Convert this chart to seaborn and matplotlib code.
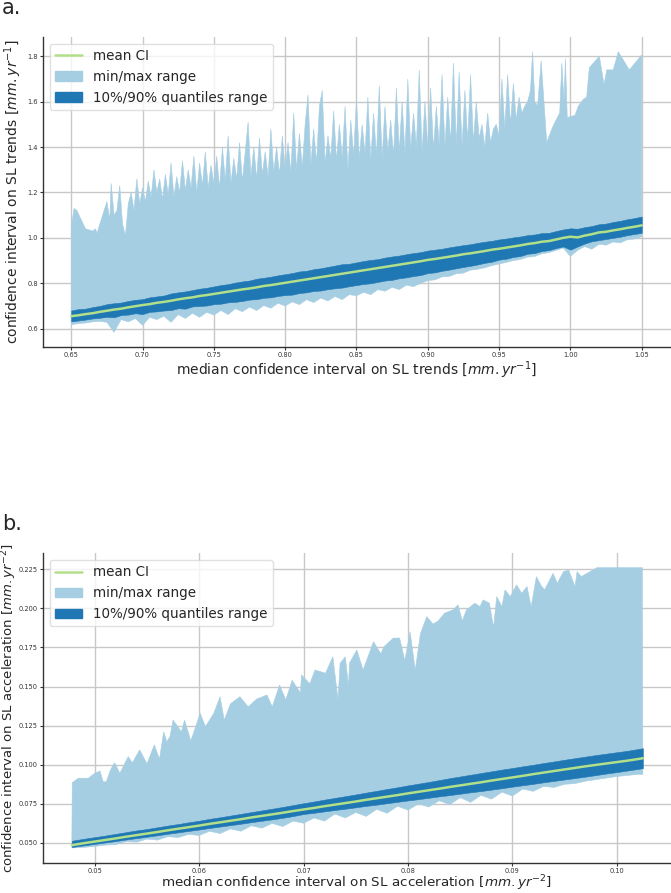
import numpy as np
import pandas as pd
import matplotlib
matplotlib.use("Agg")
import matplotlib.pyplot as plt
import seaborn as sns
from matplotlib.lines import Line2D
from matplotlib.patches import Patch

# ---------------- Panel a : SL trends ----------------
a_x = [0.650, 0.655, 0.660, 0.665, 0.670, 0.675, 0.680, 0.685, 0.690, 0.695,
       0.700, 0.705, 0.710, 0.715, 0.720, 0.725, 0.730, 0.735, 0.740, 0.745,
       0.750, 0.755, 0.760, 0.765, 0.770, 0.775, 0.780, 0.785, 0.790, 0.795,
       0.800, 0.805, 0.810, 0.815, 0.820, 0.825, 0.830, 0.835, 0.840, 0.845,
       0.850, 0.855, 0.860, 0.865, 0.870, 0.875, 0.880, 0.885, 0.890, 0.895,
       0.900, 0.905, 0.910, 0.915, 0.920, 0.925, 0.930, 0.935, 0.940, 0.945,
       0.950, 0.955, 0.960, 0.965, 0.970, 0.975, 0.980, 0.985, 0.990, 0.995,
       1.000, 1.005, 1.010, 1.015, 1.020, 1.025, 1.030, 1.035, 1.040, 1.045, 1.050]
a_mean = [0.655, 0.659, 0.664, 0.668, 0.674, 0.679, 0.684, 0.688, 0.694, 0.699,
          0.704, 0.708, 0.714, 0.718, 0.723, 0.729, 0.734, 0.738, 0.744, 0.748,
          0.753, 0.758, 0.763, 0.768, 0.773, 0.777, 0.782, 0.788, 0.792, 0.797,
          0.802, 0.807, 0.812, 0.817, 0.822, 0.827, 0.832, 0.837, 0.842, 0.847,
          0.852, 0.857, 0.862, 0.867, 0.872, 0.877, 0.882, 0.887, 0.892, 0.897,
          0.903, 0.907, 0.912, 0.917, 0.922, 0.928, 0.932, 0.937, 0.942, 0.948,
          0.952, 0.957, 0.962, 0.967, 0.973, 0.977, 0.983, 0.986, 0.993, 1.000,
          1.005, 1.002, 1.010, 1.016, 1.024, 1.027, 1.033, 1.038, 1.044, 1.049, 1.055]
a_q90 = [0.680, 0.686, 0.688, 0.695, 0.700, 0.708, 0.712, 0.715, 0.722, 0.727,
         0.730, 0.738, 0.742, 0.746, 0.755, 0.760, 0.764, 0.770, 0.776, 0.780,
         0.786, 0.792, 0.796, 0.803, 0.808, 0.812, 0.820, 0.824, 0.829, 0.835,
         0.840, 0.845, 0.852, 0.855, 0.862, 0.866, 0.872, 0.878, 0.884, 0.886,
         0.892, 0.898, 0.903, 0.906, 0.913, 0.918, 0.922, 0.928, 0.933, 0.937,
         0.944, 0.948, 0.952, 0.958, 0.963, 0.968, 0.972, 0.978, 0.983, 0.987,
         0.993, 0.997, 1.002, 1.006, 1.012, 1.015, 1.021, 1.022, 1.030, 1.037,
         1.042, 1.040, 1.047, 1.052, 1.060, 1.063, 1.070, 1.075, 1.082, 1.087, 1.094]
a_q10 = [0.632, 0.636, 0.640, 0.645, 0.648, 0.652, 0.650, 0.660, 0.662, 0.668,
         0.664, 0.674, 0.676, 0.680, 0.682, 0.690, 0.688, 0.698, 0.700, 0.702,
         0.708, 0.710, 0.716, 0.718, 0.722, 0.728, 0.730, 0.736, 0.738, 0.744,
         0.748, 0.750, 0.757, 0.760, 0.766, 0.768, 0.774, 0.778, 0.781, 0.787,
         0.792, 0.797, 0.800, 0.806, 0.812, 0.815, 0.822, 0.826, 0.832, 0.836,
         0.845, 0.848, 0.855, 0.860, 0.866, 0.872, 0.877, 0.883, 0.890, 0.895,
         0.904, 0.908, 0.916, 0.920, 0.930, 0.933, 0.942, 0.946, 0.955, 0.962,
         0.948, 0.962, 0.975, 0.985, 0.990, 0.995, 1.000, 1.005, 1.012, 1.017, 1.022]
a_min = [0.618, 0.622, 0.625, 0.630, 0.632, 0.628, 0.584, 0.640, 0.630, 0.645,
         0.615, 0.650, 0.640, 0.655, 0.628, 0.662, 0.645, 0.668, 0.650, 0.672,
         0.660, 0.680, 0.662, 0.688, 0.675, 0.695, 0.680, 0.702, 0.690, 0.712,
         0.700, 0.718, 0.706, 0.728, 0.715, 0.735, 0.722, 0.742, 0.728, 0.750,
         0.745, 0.760, 0.750, 0.772, 0.765, 0.782, 0.772, 0.792, 0.785, 0.800,
         0.812, 0.815, 0.828, 0.830, 0.842, 0.845, 0.858, 0.862, 0.868, 0.878,
         0.885, 0.892, 0.900, 0.905, 0.915, 0.918, 0.930, 0.935, 0.945, 0.955,
         0.918, 0.945, 0.962, 0.950, 0.972, 0.968, 0.982, 0.978, 0.992, 0.995, 1.005]
a_max_x = [0.650, 0.652, 0.654, 0.660, 0.665, 0.667, 0.668, 0.672, 0.675, 0.677,
           0.678, 0.680, 0.682, 0.684, 0.686, 0.688, 0.690, 0.692, 0.694, 0.696,
           0.698, 0.700, 0.702, 0.704, 0.706, 0.708, 0.710, 0.712, 0.714, 0.716,
           0.718, 0.720, 0.722, 0.724, 0.726, 0.728, 0.730, 0.732, 0.734, 0.736,
           0.738, 0.740, 0.742, 0.744, 0.746, 0.748, 0.750, 0.752, 0.754, 0.756,
           0.758, 0.760, 0.762, 0.764, 0.766, 0.768, 0.770, 0.772, 0.774, 0.776,
           0.778, 0.780, 0.782, 0.784, 0.786, 0.788, 0.790, 0.792, 0.794, 0.796,
           0.798, 0.800, 0.802, 0.804, 0.806, 0.808, 0.810, 0.812, 0.814, 0.816,
           0.818, 0.820, 0.822, 0.824, 0.826, 0.828, 0.830, 0.832, 0.834, 0.836,
           0.838, 0.840, 0.842, 0.844, 0.846, 0.848, 0.850, 0.852, 0.854, 0.856,
           0.858, 0.860, 0.862, 0.864, 0.866, 0.868, 0.870, 0.872, 0.874, 0.876,
           0.878, 0.880, 0.882, 0.884, 0.886, 0.888, 0.890, 0.892, 0.894, 0.896,
           0.898, 0.900, 0.902, 0.904, 0.906, 0.908, 0.910, 0.912, 0.914, 0.916,
           0.918, 0.920, 0.922, 0.924, 0.926, 0.928, 0.930, 0.932, 0.934, 0.936,
           0.938, 0.940, 0.942, 0.944, 0.946, 0.948, 0.950, 0.952, 0.954, 0.956,
           0.958, 0.960, 0.962, 0.964, 0.966, 0.968, 0.970, 0.972, 0.9735, 0.975,
           0.977, 0.9795, 0.9834, 0.987, 0.990, 0.9925, 0.994, 0.9955, 0.9965, 0.9978,
           1.0032, 1.0055, 1.009, 1.0114, 1.0133, 1.0203, 1.0236, 1.0255, 1.030, 1.0336,
           1.0413, 1.050]
a_max = [1.05, 1.13, 1.12, 1.04, 1.03, 1.04, 1.02, 1.10, 1.16, 1.08,
         1.24, 1.10, 1.12, 1.23, 1.06, 1.01, 1.15, 1.20, 1.12, 1.26,
         1.15, 1.22, 1.16, 1.25, 1.18, 1.30, 1.20, 1.26, 1.17, 1.28,
         1.19, 1.33, 1.18, 1.27, 1.20, 1.34, 1.21, 1.30, 1.22, 1.36,
         1.20, 1.33, 1.23, 1.38, 1.22, 1.32, 1.24, 1.36, 1.22, 1.40,
         1.25, 1.45, 1.24, 1.35, 1.26, 1.42, 1.25, 1.38, 1.51, 1.27,
         1.40, 1.26, 1.44, 1.28, 1.38, 1.27, 1.48, 1.29, 1.40, 1.28,
         1.45, 1.30, 1.42, 1.29, 1.55, 1.30, 1.46, 1.31, 1.50, 1.63,
         1.32, 1.48, 1.33, 1.58, 1.65, 1.33, 1.45, 1.35, 1.56, 1.34,
         1.50, 1.35, 1.58, 1.30, 1.52, 1.36, 1.61, 1.35, 1.50, 1.37,
         1.62, 1.34, 1.55, 1.36, 1.67, 1.35, 1.58, 1.38, 1.52, 1.36,
         1.66, 1.38, 1.60, 1.37, 1.70, 1.39, 1.55, 1.40, 1.74, 1.38,
         1.60, 1.40, 1.66, 1.39, 1.58, 1.41, 1.72, 1.40, 1.62, 1.42,
         1.77, 1.41, 1.73, 1.40, 1.65, 1.43, 1.72, 1.42, 1.60, 1.44,
         1.50, 1.40, 1.55, 1.42, 1.48, 1.50, 1.45, 1.70, 1.48, 1.72,
         1.50, 1.68, 1.52, 1.62, 1.55, 1.58, 1.60, 1.65, 1.82, 1.60,
         1.58, 1.78, 1.42, 1.48, 1.52, 1.55, 1.77, 1.60, 1.79, 1.53,
         1.54, 1.58, 1.61, 1.62, 1.75, 1.80, 1.675, 1.74, 1.74, 1.82,
         1.74, 1.806]

# ---------------- Panel b : SL acceleration ----------------
b_x = [0.0478, 0.049, 0.050, 0.051, 0.052, 0.053, 0.054, 0.055, 0.056, 0.057,
       0.058, 0.059, 0.060, 0.061, 0.062, 0.063, 0.064, 0.065, 0.066, 0.067,
       0.068, 0.069, 0.070, 0.071, 0.072, 0.073, 0.074, 0.075, 0.076, 0.077,
       0.078, 0.079, 0.080, 0.081, 0.082, 0.083, 0.084, 0.085, 0.086, 0.087,
       0.088, 0.089, 0.090, 0.091, 0.092, 0.093, 0.094, 0.095, 0.096, 0.097,
       0.098, 0.099, 0.100, 0.101, 0.102, 0.1025]
b_mean = [0.0486, 0.0499, 0.0509, 0.0519, 0.0529, 0.0540, 0.0550, 0.0560, 0.0570, 0.0581,
          0.0591, 0.0601, 0.0611, 0.0622, 0.0632, 0.0642, 0.0652, 0.0663, 0.0673, 0.0683,
          0.0693, 0.0704, 0.0714, 0.0724, 0.0735, 0.0745, 0.0755, 0.0765, 0.0776, 0.0786,
          0.0796, 0.0806, 0.0817, 0.0827, 0.0837, 0.0847, 0.0858, 0.0868, 0.0878, 0.0888,
          0.0899, 0.0909, 0.0919, 0.0929, 0.0940, 0.0950, 0.0960, 0.0970, 0.0980, 0.0990,
          0.0999, 0.1008, 0.1017, 0.1026, 0.1036, 0.1042]
b_q90 = [0.0514, 0.0527, 0.0537, 0.0547, 0.0558, 0.0569, 0.0580, 0.0589, 0.0600, 0.0611,
         0.0621, 0.0632, 0.0642, 0.0654, 0.0664, 0.0675, 0.0686, 0.0697, 0.0708, 0.0719,
         0.0730, 0.0742, 0.0754, 0.0765, 0.0777, 0.0788, 0.0799, 0.0810, 0.0822, 0.0833,
         0.0845, 0.0856, 0.0868, 0.0879, 0.0890, 0.0902, 0.0914, 0.0925, 0.0936, 0.0947,
         0.0958, 0.0969, 0.0979, 0.0990, 0.1000, 0.1011, 0.1021, 0.1032, 0.1042, 0.1052,
         0.1062, 0.1071, 0.1080, 0.1089, 0.1100, 0.1106]
b_q10 = [0.0474, 0.0485, 0.0494, 0.0503, 0.0512, 0.0522, 0.0531, 0.0540, 0.0549, 0.0559,
         0.0568, 0.0577, 0.0586, 0.0596, 0.0605, 0.0614, 0.0623, 0.0633, 0.0642, 0.0651,
         0.0661, 0.0672, 0.0685, 0.0693, 0.0702, 0.0711, 0.0719, 0.0728, 0.0737, 0.0745,
         0.0754, 0.0763, 0.0772, 0.0780, 0.0789, 0.0798, 0.0806, 0.0815, 0.0824, 0.0832,
         0.0841, 0.0850, 0.0860, 0.0869, 0.0878, 0.0888, 0.0897, 0.0906, 0.0915, 0.0924,
         0.0934, 0.0944, 0.0953, 0.0963, 0.0973, 0.0978]
b_min = [0.0468, 0.0472, 0.0478, 0.0486, 0.0490, 0.0508, 0.0505, 0.0525, 0.0518, 0.0540,
         0.0535, 0.0555, 0.0548, 0.0575, 0.0560, 0.0590, 0.0575, 0.0610, 0.0595, 0.0625,
         0.0605, 0.0640, 0.0626, 0.0660, 0.0640, 0.0685, 0.0660, 0.0695, 0.0670, 0.0715,
         0.0690, 0.0735, 0.0710, 0.0750, 0.0730, 0.0770, 0.0745, 0.0790, 0.0760, 0.0805,
         0.0780, 0.0825, 0.0800, 0.0845, 0.0830, 0.0862, 0.0855, 0.0875, 0.0880, 0.0895,
         0.0905, 0.0915, 0.0925, 0.0932, 0.0938, 0.0939]
b_max_x = [0.04784, 0.04842, 0.04938, 0.0500, 0.0505, 0.0508, 0.0511, 0.0515, 0.0519, 0.0524,
           0.0532, 0.0536, 0.0543, 0.0550, 0.0557, 0.0562, 0.0566, 0.0569, 0.0572, 0.0575,
           0.0583, 0.0586, 0.0592, 0.0601, 0.0606, 0.0614, 0.0620, 0.0624, 0.0630, 0.0639,
           0.0647, 0.0655, 0.0665, 0.0670, 0.0677, 0.0683, 0.0689, 0.0697, 0.0698, 0.0706,
           0.0711, 0.0721, 0.0728, 0.0733, 0.0735, 0.0740, 0.0743, 0.0744, 0.0751, 0.0757,
           0.0767, 0.0774, 0.0777, 0.0786, 0.0792, 0.0797, 0.0802, 0.0807, 0.0812, 0.0818,
           0.0824, 0.0829, 0.0835, 0.0843, 0.0848, 0.0852, 0.0856, 0.0864, 0.0869, 0.0872,
           0.0878, 0.0882, 0.0885, 0.0890, 0.0893, 0.0898, 0.0904, 0.0909, 0.0914, 0.0918,
           0.0923, 0.0928, 0.0931, 0.0939, 0.0943, 0.0949, 0.0954, 0.0960, 0.0962, 0.0966,
           0.0981, 0.10245]
b_max = [0.0886, 0.0914, 0.0914, 0.0946, 0.0960, 0.0892, 0.0890, 0.0967, 0.1013, 0.0946,
         0.1052, 0.1013, 0.1095, 0.1006, 0.1127, 0.1036, 0.1211, 0.1147, 0.1180, 0.1286,
         0.1211, 0.1285, 0.1153, 0.1329, 0.1244, 0.1329, 0.1435, 0.1286, 0.1390, 0.1435,
         0.1370, 0.1420, 0.1446, 0.1370, 0.1510, 0.1415, 0.1540, 0.1460, 0.1575, 0.1518,
         0.1606, 0.1585, 0.1691, 0.1416, 0.1650, 0.1690, 0.1500, 0.1650, 0.1734, 0.1606,
         0.1787, 0.1710, 0.1755, 0.1810, 0.1810, 0.1665, 0.1851, 0.1606, 0.1840, 0.1947,
         0.1900, 0.1920, 0.1969, 0.1990, 0.2022, 0.1920, 0.1990, 0.2033, 0.2012, 0.2054,
         0.2033, 0.1878, 0.2075, 0.2012, 0.2118, 0.2075, 0.2150, 0.2097, 0.2140, 0.2010,
         0.2203, 0.2140, 0.2120, 0.2224, 0.2160, 0.2235, 0.2245, 0.2139, 0.2235, 0.2203,
         0.2260, 0.2260]

a_xticks = [0.65, 0.70, 0.75, 0.80, 0.85, 0.90, 0.95, 1.00, 1.05]
a_yticks = [0.6, 0.8, 1.0, 1.2, 1.4, 1.6, 1.8]
b_xticks = [0.05, 0.06, 0.07, 0.08, 0.09, 0.10]
b_yticks = [0.050, 0.075, 0.100, 0.125, 0.150, 0.175, 0.200, 0.225]

# ---------------- Style ----------------
sns.set_style("ticks")
plt.rcParams.update({
    "font.family": ["DejaVu Sans"],
    "axes.edgecolor": "#333333",
    "axes.linewidth": 1.0,
    "axes.grid": True,
    "grid.color": "#c8c8c8",
    "grid.linewidth": 1.0,
    "xtick.major.size": 2.2,
    "ytick.major.size": 2.2,
    "xtick.major.pad": 1.4,
    "ytick.major.pad": 1.4,
    "xtick.color": "#333333",
    "ytick.color": "#333333",
    "xtick.labelsize": 4.8,
    "ytick.labelsize": 4.8,
})

pal = sns.color_palette("Paired")
c_light, c_dark, c_green = pal[0], pal[1], pal[2]

fig = plt.figure(figsize=(6.71, 8.93), dpi=100)
ax_a = fig.add_axes([0.0641, 0.6118, 0.9352, 0.3468])
ax_b = fig.add_axes([0.0641, 0.0338, 0.9352, 0.3466])


def draw(ax, bx, bmean, bq10, bq90, bmin, mx, my):
    px = np.concatenate([np.asarray(mx), np.asarray(bx)[::-1]])
    py = np.concatenate([np.asarray(my), np.asarray(bmin)[::-1]])
    ax.fill(px, py, color=c_light, lw=0.4, zorder=1)
    ax.fill_between(bx, bq10, bq90, color=c_dark, lw=0.4, zorder=2)
    df = pd.DataFrame({"x": bx, "mean": bmean})
    sns.lineplot(data=df, x="x", y="mean", ax=ax, color=c_green, lw=1.8,
                 zorder=3, legend=False)
    handles = [Line2D([0], [0], color=c_green, lw=1.8),
               Patch(facecolor=c_light, edgecolor=c_light),
               Patch(facecolor=c_dark, edgecolor=c_dark)]
    ax.legend(handles, ["mean CI", "min/max range", "10%/90% quantiles range"],
              loc="upper left", fontsize=9.75, framealpha=0.8, edgecolor="0.85")
    ax.set_axisbelow(True)
    sns.despine(ax=ax)


draw(ax_a, a_x, a_mean, a_q10, a_q90, a_min, a_max_x, a_max)
ax_a.set_xlim(0.6302, 1.0702)
ax_a.set_ylim(0.5207, 1.885)
ax_a.set_xticks(a_xticks)
ax_a.set_yticks(a_yticks)
ax_a.set_xticklabels([f"{v:.2f}" for v in a_xticks])
ax_a.set_yticklabels([f"{v:.1f}" for v in a_yticks])
ax_a.set_xlabel(r"median confidence interval on SL trends [$mm.yr^{-1}$]", fontsize=10, labelpad=1.5)
ax_a.set_ylabel(r"confidence interval on SL trends [$mm.yr^{-1}$]", fontsize=10)
ax_a.yaxis.set_label_coords(-0.030, 0.5)

draw(ax_b, b_x, b_mean, b_q10, b_q90, b_min, b_max_x, b_max)
ax_b.set_xlim(0.04504, 0.10515)
ax_b.set_ylim(0.0373, 0.2352)
ax_b.set_xticks(b_xticks)
ax_b.set_yticks(b_yticks)
ax_b.set_xticklabels([f"{v:.2f}" for v in b_xticks])
ax_b.set_yticklabels([f"{v:.3f}" for v in b_yticks])
ax_b.set_xlabel(r"median confidence interval on SL acceleration [$mm.yr^{-2}$]", fontsize=9.7, labelpad=0.0)
ax_b.set_ylabel(r"confidence interval on SL acceleration [$mm.yr^{-2}$]", fontsize=9.5)
ax_b.yaxis.set_label_coords(-0.039, 0.5)

fig.text(0.003, 1 - 14.5 / 893, "a.", fontsize=15, va="baseline", ha="left")
fig.text(0.003, 1 - 530 / 893, "b.", fontsize=15, va="baseline", ha="left")

fig.savefig("out.png", dpi=100)
